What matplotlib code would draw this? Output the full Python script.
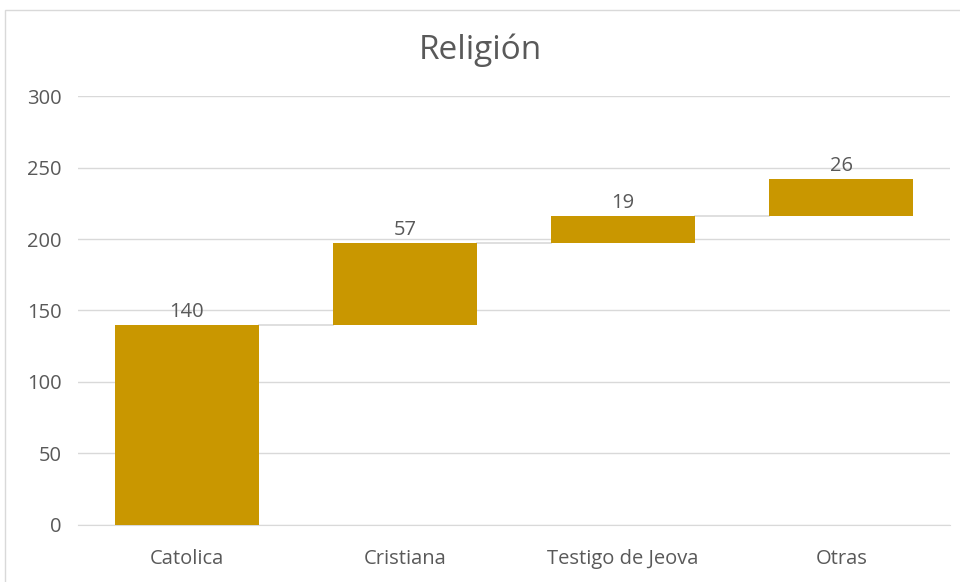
import matplotlib.pyplot as plt
from matplotlib.patches import Rectangle

categories = ["Catolica", "Cristiana", "Testigo de Jeova", "Otras"]
values = [140, 57, 19, 26]

plt.rcParams['font.family'] = ['Open Sans', 'DejaVu Sans']

bar_color = "#c99700"
text_color = "#595959"
grid_color = "#d9d9d9"

fig = plt.figure(figsize=(9.6, 5.82), dpi=100)
fig.patches.append(Rectangle((5 / 960, -0.1), 1.1, 1 - 10 / 582 + 0.1, transform=fig.transFigure,
                             fill=False, edgecolor="#d9d9d9", linewidth=1))
ax = fig.add_axes([0.081, 0.098, 0.909, 0.737])

bottoms = []
running = 0
for v in values:
    bottoms.append(running)
    running += v

x = list(range(len(categories)))
width = 0.66
ax.bar(x, values, bottom=bottoms, width=width, color=bar_color, zorder=3)

# connectors
for i in range(len(values) - 1):
    top = bottoms[i] + values[i]
    ax.plot([i + width / 2, i + 1 - width / 2], [top, top], color="#d9d9d9", linewidth=1.2, zorder=2)

for i, v in enumerate(values):
    ax.text(i, bottoms[i] + v + 2, str(v), ha="center", va="bottom", fontsize=14.5, color=text_color)

ax.set_xlim(-0.5, 3.5)
ax.set_ylim(0, 300)
ax.set_yticks(range(0, 301, 50))
ax.set_xticks(x)
ax.set_xticklabels(categories)
ax.tick_params(axis="both", length=0, labelsize=14.5, labelcolor=text_color)
ax.tick_params(axis="y", pad=11.5)
ax.tick_params(axis="x", pad=17)
ax.grid(axis="y", color=grid_color, linewidth=1, zorder=0)
for s in ax.spines.values():
    s.set_visible(False)
ax.spines["bottom"].set_visible(True)
ax.spines["bottom"].set_color(grid_color)

fig.text(0.5, 1 - 50 / 582, "Religión", ha="center", va="center", fontsize=24, color=text_color)

plt.savefig("out.png", dpi=100)
